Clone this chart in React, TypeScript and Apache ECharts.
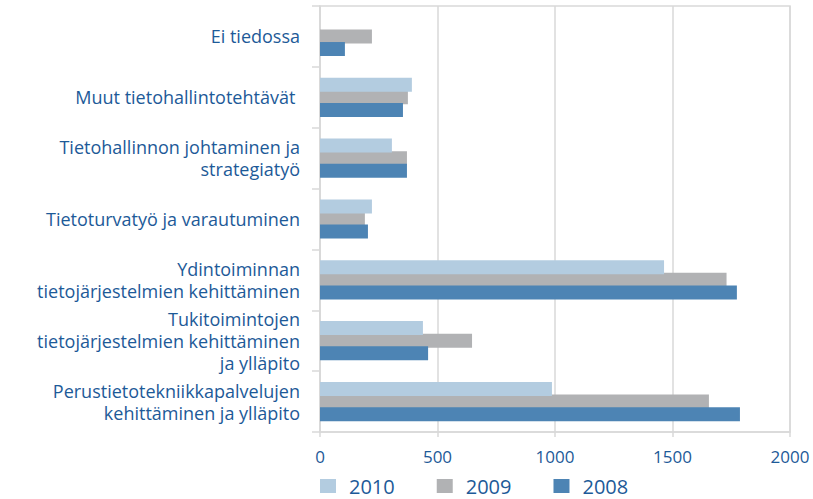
import React, { useEffect, useRef } from "react";
import * as echarts from "echarts";

// categories listed bottom-to-top (ECharts category y-axis starts at the bottom)
const categories: string[] = [
  "Perustietotekniikkapalvelujen\nkehittäminen ja ylläpito",
  "Tukitoimintojen\ntietojärjestelmien kehittäminen\nja ylläpito",
  "Ydintoiminnan\ntietojärjestelmien kehittäminen",
  "Tietoturvatyö ja varautuminen",
  "Tietohallinnon johtaminen ja\nstrategiatyö",
  "Muut tietohallintotehtävät ",
  "Ei tiedossa",
];

const values2008: number[] = [1787, 460, 1774, 204, 370, 353, 106];
const values2009: number[] = [1655, 647, 1730, 191, 370, 374, 221];
const values2010: (number | null)[] = [987, 438, 1464, 221, 306, 391, null];

const xTicks = { min: 0, max: 2000, interval: 500 };

const TEXT = "#1d5a98";
const LINE = "#d9d9d9";

export default function App() {
  const ref = useRef<HTMLDivElement>(null);
  useEffect(() => {
    document.body.style.margin = "0";
    if (!ref.current) return;
    const chart = echarts.init(ref.current, undefined, { renderer: "svg" });
    const font = "'Open Sans', 'Noto Sans', sans-serif";
    chart.setOption({
      animation: false,
      textStyle: { fontFamily: font },
      grid: {
        left: 320,
        right: 23,
        top: 6,
        bottom: 67,
        show: true,
        borderColor: LINE,
        borderWidth: 1.5,
      },
      legend: {
        data: ["2010", "2009", "2008"],
        left: 320,
        top: 476,
        padding: 0,
        itemWidth: 16,
        itemHeight: 14,
        itemGap: 42,
        icon: "rect",
        textStyle: {
          color: TEXT,
          fontSize: 20,
          lineHeight: 20,
          fontFamily: font,
          padding: [0, 0, 0, 8],
        },
      },
      xAxis: {
        type: "value",
        min: xTicks.min,
        max: xTicks.max,
        interval: xTicks.interval,
        axisLine: { show: true, lineStyle: { color: LINE, width: 1.5 } },
        axisTick: { show: true, length: 5, lineStyle: { color: LINE, width: 1.5 } },
        splitLine: { show: true, lineStyle: { color: LINE, width: 1.5 } },
        axisLabel: {
          color: TEXT,
          fontSize: 17,
          margin: 16,
          fontFamily: font,
          formatter: (v: number) => String(v),
        },
      },
      yAxis: {
        type: "category",
        data: categories,
        axisLine: { show: true, lineStyle: { color: LINE, width: 1.5 } },
        axisTick: { show: true, length: 8, lineStyle: { color: LINE, width: 1.5 } },
        axisLabel: {
          color: TEXT,
          fontSize: 18,
          lineHeight: 22,
          margin: 20,
          align: "right",
          fontFamily: font,
        },
      },
      series: [
        {
          name: "2010",
          type: "bar",
          data: values2010,
          barWidth: 14,
          barGap: "-10%",
          itemStyle: { color: "#b3cce0" },
          z: 3,
        },
        {
          name: "2009",
          type: "bar",
          data: values2009,
          barWidth: 14,
          barGap: "-10%",
          itemStyle: { color: "#b1b2b4" },
          z: 2,
        },
        {
          name: "2008",
          type: "bar",
          data: values2008,
          barWidth: 14,
          barGap: "-10%",
          itemStyle: { color: "#4d84b4" },
          z: 3,
        },
      ],
    });
    return () => chart.dispose();
  }, []);
  return <div ref={ref} style={{ width: 813, height: 499 }} />;
}
